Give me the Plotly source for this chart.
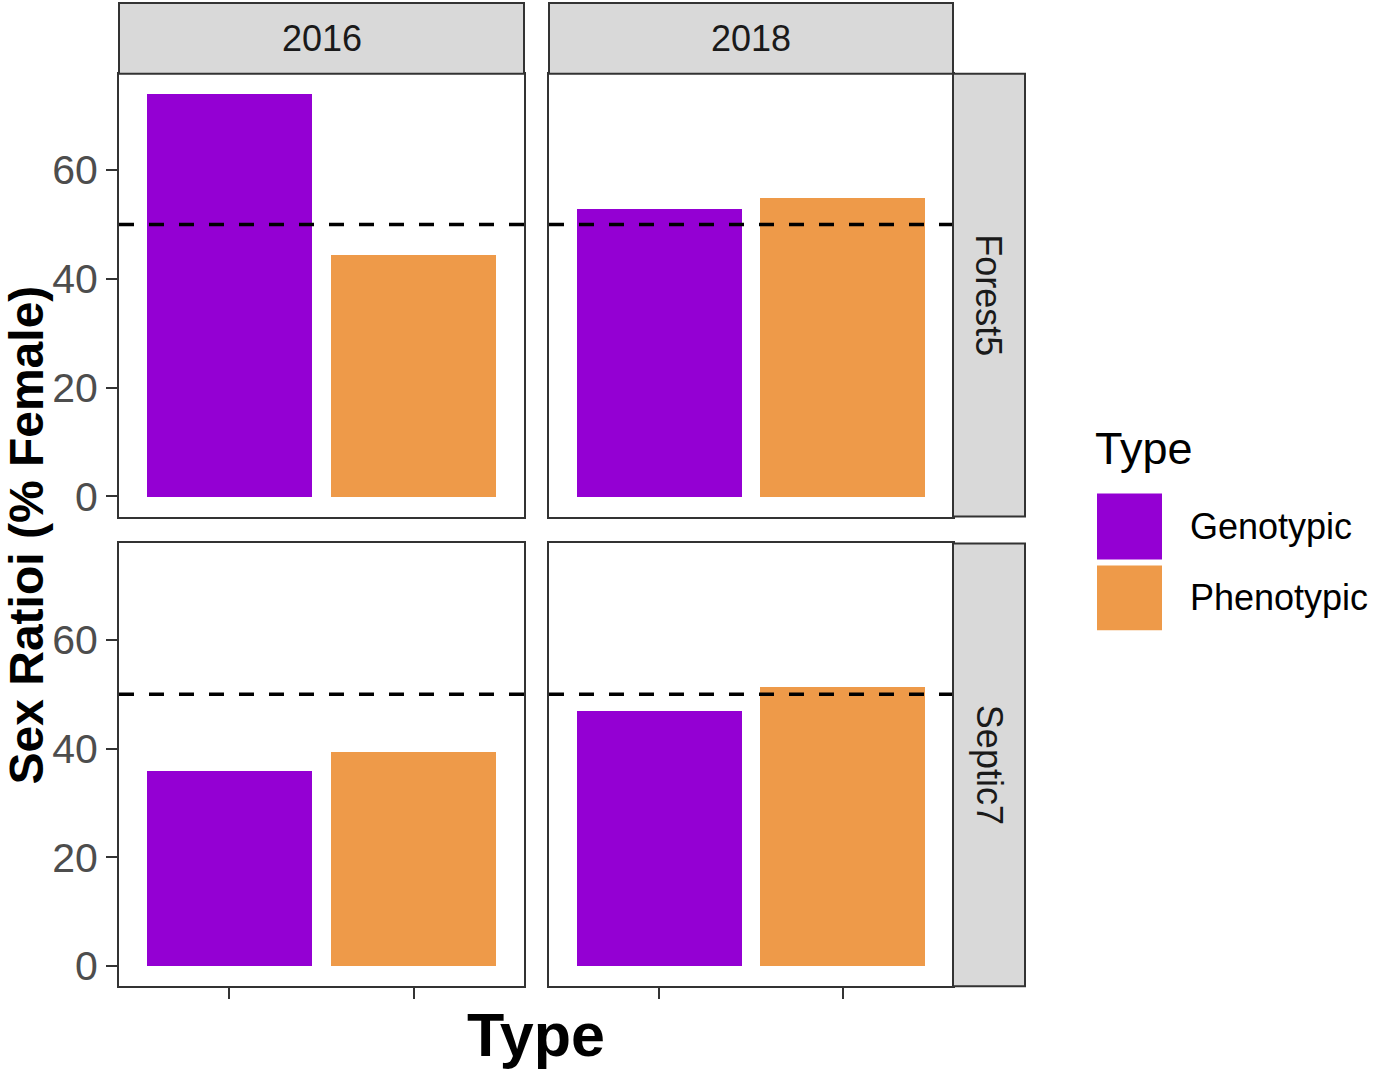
import plotly.graph_objects as go

# datos
years = ["2016", "2018"]
sites = ["Forest5", "Septic7"]
types = ["Genotypic", "Phenotypic"]
colors = ["#9400D3", "#EE9A49"]

forest5_2016 = [74.0, 44.4]
forest5_2018 = [52.9, 54.9]
septic7_2016 = [35.7, 39.2]
septic7_2018 = [46.8, 51.2]
expected_ratio = 50

values = [[forest5_2016, forest5_2018], [septic7_2016, septic7_2018]]

W, H = 1373, 1075

def px(x):
    return x / W
def py(y):
    return 1 - y / H

cols = [(119, 524), (549, 953)]
rows = [(74, 518), (545, 989)]
font = "Liberation Sans, Arial, sans-serif"
line_col = "#333333"

fig = go.Figure()
shapes = []
annotations = []

def label(text, x, y, size, color="black", angle=0, xanchor="center"):
    annotations.append(dict(text=text, xref="paper", yref="paper", x=px(x), y=py(y),
                            xanchor=xanchor, yanchor="middle", textangle=angle, showarrow=False,
                            font=dict(family=font, size=size, color=color)))

for r in range(2):
    for c in range(2):
        n = r * 2 + c + 1
        sfx = "" if n == 1 else str(n)
        fig.add_trace(go.Bar(x=types, y=values[r][c], marker=dict(color=colors, line=dict(width=0)),
                             width=0.9, xaxis="x" + sfx, yaxis="y" + sfx, showlegend=False))
        fig.layout["xaxis" + sfx] = dict(
            domain=[px(cols[c][0]), px(cols[c][1])], anchor="y" + sfx, type="category",
            range=[-0.6, 1.6], showline=True, mirror=True, linecolor=line_col, linewidth=2,
            showgrid=False, zeroline=False, showticklabels=False,
            ticks="outside" if r == 1 else "", ticklen=11, tickwidth=2, tickcolor=line_col)
        fig.layout["yaxis" + sfx] = dict(
            domain=[py(rows[r][1]), py(rows[r][0])], anchor="x" + sfx,
            range=[-3.7, 77.7], showline=True, mirror=True, linecolor=line_col, linewidth=2,
            showgrid=False, zeroline=False, tickvals=[0, 20, 40, 60],
            showticklabels=(c == 0), ticks="outside" if c == 0 else "", ticklen=11, tickwidth=2,
            tickcolor=line_col, tickfont=dict(family=font, size=41, color="#4D4D4D"))
        # linea de 50 %
        shapes.append(dict(type="line", xref="x" + sfx + " domain", yref="y" + sfx,
                           x0=0, x1=1, y0=expected_ratio, y1=expected_ratio,
                           line=dict(color="black", width=3.5, dash="15px,15px")))

# tiras superiores (años)
for c in range(2):
    shapes.append(dict(type="rect", xref="paper", yref="paper", x0=px(cols[c][0]), x1=px(cols[c][1]),
                       y0=py(74), y1=py(3), fillcolor="#D9D9D9", line=dict(color=line_col, width=2)))
    label(years[c], sum(cols[c]) / 2, 39, 36, "#1A1A1A")
# tiras laterales (sitios)
for r in range(2):
    shapes.append(dict(type="rect", xref="paper", yref="paper", x0=px(953), x1=px(1025),
                       y0=py(rows[r][1]), y1=py(rows[r][0]), fillcolor="#D9D9D9",
                       line=dict(color=line_col, width=2)))
    label(sites[r], 989, sum(rows[r]) / 2, 36, "#1A1A1A", angle=90)

# titulos de ejes
label("<b>Sex Ratioi (% Female)</b>", 27, 537, 48, angle=-90)
label("<b>Type</b>", 536, 1038, 61)

# leyenda manual
label("Type", 1093, 450, 45, xanchor="left")
key_rows = [(495, 561), (567, 632)]
for i in range(2):
    shapes.append(dict(type="rect", xref="paper", yref="paper", x0=px(1097), x1=px(1162),
                       y0=py(key_rows[i][1]), y1=py(key_rows[i][0]), fillcolor=colors[i], line=dict(width=0)))
    label(types[i], 1188, sum(key_rows[i]) / 2, 36, xanchor="left")

fig.update_layout(width=W, height=H, margin=dict(l=0, r=0, t=0, b=0),
                  plot_bgcolor="white", paper_bgcolor="white",
                  shapes=shapes, annotations=annotations, bargap=0)

# quitar el margen del body para que la figura empiece en (0, 0)
fig.write_html("out.html", config={"displayModeBar": False},
               post_script="document.body.style.margin='0';")
